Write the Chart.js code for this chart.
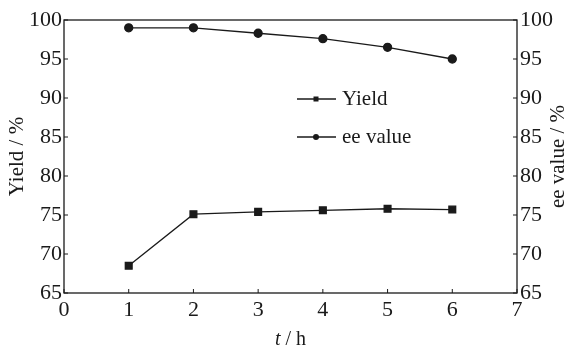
<!DOCTYPE html>
<html>
<head>
<meta charset="utf-8">
<script src="https://cdn.jsdelivr.net/npm/chart.js@4"></script>
<style>
  html,body{margin:0;padding:0;background:#fff;}
  #wrap{width:568px;height:351px;}
</style>
</head>
<body>
<div id="wrap"><canvas id="c" width="568" height="351"></canvas></div>
<script>
const hours = [1, 2, 3, 4, 5, 6];
const yieldVals = [68.5, 75.1, 75.4, 75.6, 75.8, 75.7];
const eeVals = [99.0, 99.0, 98.3, 97.6, 96.5, 95.0];
const xTicks = [0, 1, 2, 3, 4, 5, 6, 7];
const yTicks = [65, 70, 75, 80, 85, 90, 95, 100];

const FONT = "'Liberation Serif', 'Times New Roman', serif";
const INK = '#1a1a1a';

// frame, inward ticks, titles, legend
const decor = {
  id: 'decor',
  afterDraw(chart) {
    const {ctx, chartArea: a, scales} = chart;
    ctx.save();
    ctx.strokeStyle = INK;
    ctx.lineWidth = 1.3;
    ctx.strokeRect(a.left, a.top, a.right - a.left, a.bottom - a.top);

    ctx.lineWidth = 1;
    ctx.beginPath();
    xTicks.forEach(v => {
      const x = scales.x.getPixelForValue(v);
      ctx.moveTo(x, a.bottom); ctx.lineTo(x, a.bottom - 4);
    });
    yTicks.forEach(v => {
      const y = scales.y.getPixelForValue(v);
      ctx.moveTo(a.left, y); ctx.lineTo(a.left + 4, y);
      const y2 = scales.y2.getPixelForValue(v);
      ctx.moveTo(a.right, y2); ctx.lineTo(a.right - 4, y2);
    });
    ctx.stroke();

    ctx.fillStyle = INK;
    ctx.textBaseline = 'middle';
    ctx.textAlign = 'center';
    const midY = (a.top + a.bottom) / 2;
    ctx.font = '21px ' + FONT;
    ctx.save(); ctx.translate(17, midY); ctx.rotate(-Math.PI / 2);
    ctx.fillText('Yield / %', 0, 0); ctx.restore();
    ctx.save(); ctx.translate(558, midY); ctx.rotate(-Math.PI / 2);
    ctx.fillText('ee value / %', 0, 0); ctx.restore();

    // x title: italic t
    const midX = (a.left + a.right) / 2;
    ctx.textAlign = 'left';
    ctx.font = 'italic 20px ' + FONT;
    const tW = ctx.measureText('t').width;
    ctx.font = '20px ' + FONT;
    const restW = ctx.measureText(' / h').width;
    const x0 = midX - (tW + restW) / 2;
    ctx.font = 'italic 20px ' + FONT;
    ctx.fillText('t', x0, 340);
    ctx.font = '20px ' + FONT;
    ctx.fillText(' / h', x0 + tW, 340);

    // legend
    const items = [
      {label: 'Yield', style: 'rect', y: 99},
      {label: 'ee value', style: 'circle', y: 137}
    ];
    items.forEach(it => {
      ctx.lineWidth = 1.3;
      ctx.beginPath(); ctx.moveTo(297, it.y); ctx.lineTo(336, it.y); ctx.stroke();
      if (it.style === 'rect') ctx.fillRect(313.5, it.y - 2.5, 5, 5);
      else { ctx.beginPath(); ctx.arc(316, it.y, 3, 0, Math.PI * 2); ctx.fill(); }
      ctx.font = '21px ' + FONT;
      ctx.fillText(it.label, 342, it.y);
    });
    ctx.restore();
  }
};

new Chart(document.getElementById('c').getContext('2d'), {
  type: 'line',
  data: {
    datasets: [
      {
        label: 'Yield',
        data: hours.map((h, i) => ({x: h, y: yieldVals[i]})),
        yAxisID: 'y',
        borderColor: INK, backgroundColor: INK, borderWidth: 1.3,
        pointStyle: 'rect', pointRadius: 4.8, tension: 0
      },
      {
        label: 'ee value',
        data: hours.map((h, i) => ({x: h, y: eeVals[i]})),
        yAxisID: 'y2',
        borderColor: INK, backgroundColor: INK, borderWidth: 1.3,
        pointStyle: 'circle', pointRadius: 4, tension: 0
      }
    ]
  },
  options: {
    responsive: false, animation: false,
    layout: {padding: {top: 20, left: 0, right: 0, bottom: 0}},
    plugins: {legend: {display: false}, tooltip: {enabled: false}},
    scales: {
      x: {
        type: 'linear', min: 0, max: 7,
        grid: {display: false, drawTicks: false}, border: {display: false},
        ticks: {stepSize: 1, color: INK, font: {family: FONT, size: 22}, padding: 4},
        afterFit: s => { s.height = 58; }
      },
      y: {
        position: 'left', min: 65, max: 100,
        grid: {display: false, drawTicks: false}, border: {display: false},
        ticks: {stepSize: 5, color: INK, font: {family: FONT, size: 22}, padding: 2},
        afterFit: s => { s.width = 64; }
      },
      y2: {
        position: 'right', min: 65, max: 100,
        grid: {display: false, drawTicks: false}, border: {display: false},
        ticks: {stepSize: 5, color: INK, font: {family: FONT, size: 22}, padding: 3},
        afterFit: s => { s.width = 51; }
      }
    }
  },
  plugins: [decor]
});
</script>
</body>
</html>
